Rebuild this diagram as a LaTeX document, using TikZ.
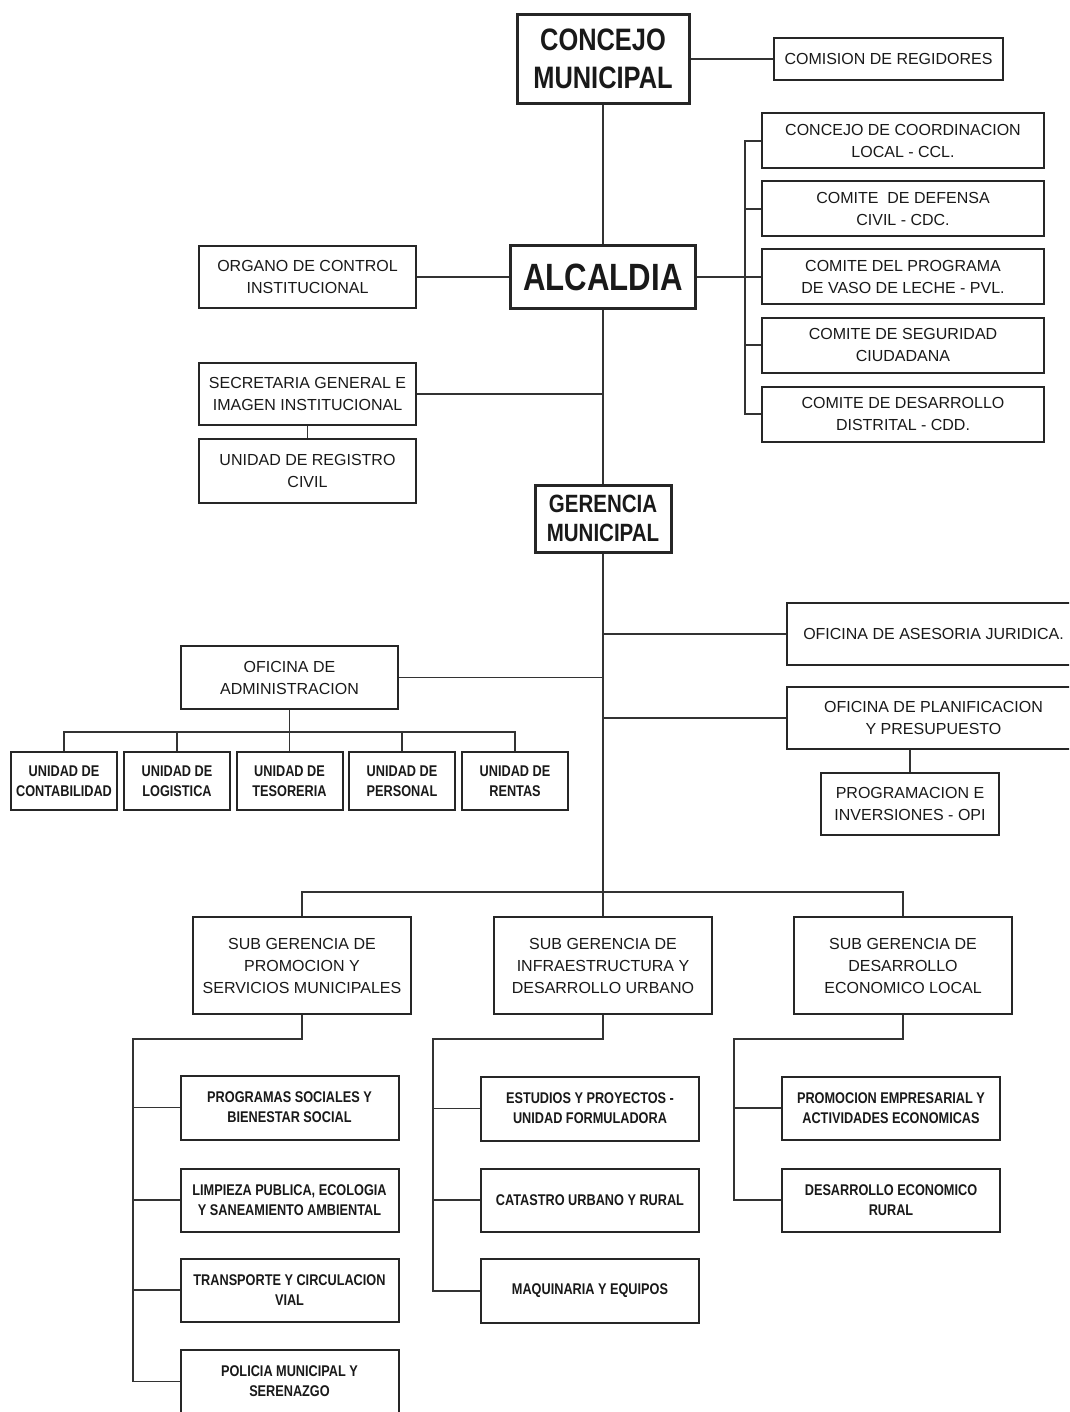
\documentclass[tikz,border=0pt]{standalone}
\usepackage{fontspec}
\setmainfont{Liberation Sans}
\newfontfamily\narrowfont[FakeStretch=0.82]{Liberation Sans}
\usetikzlibrary{positioning}
\tikzset{
  org/.style={draw=black!85, line width=2pt, align=center, inner sep=0pt,
    text=black!90, font=\fontsize{16}{22}\selectfont},
  head/.style={org, line width=3pt},
  unit/.style={org, font=\narrowfont\bfseries\fontsize{15.5}{20}\selectfont},
  link/.style={draw=black!80, line width=1.6pt},
}

\begin{document}
\begin{tikzpicture}[x=1pt, y=-1pt]

    \fill[white] (0,0) rectangle (1069,1412);
    \useasboundingbox (0,0) rectangle (1069,1412);
    \clip (0,0) rectangle (1069,1412);

    % top
    \node[head, minimum width=172pt, minimum height=89pt, font=\narrowfont\bfseries\fontsize{31}{38}\selectfont] (CM) at (603,59) {CONCEJO\\MUNICIPAL};
    \node[org, minimum width=229pt, minimum height=42pt] (CR) at (888.5,59) {COMISION DE REGIDORES};
    \node[head, minimum width=185pt, minimum height=63pt, font=\narrowfont\bfseries\fontsize{38}{40}\selectfont] (AL) at (603,277) {ALCALDIA};
    \node[org, minimum width=217pt, minimum height=62pt] (OCI) at (307.5,277) {ORGANO DE CONTROL\\INSTITUCIONAL};

    \node[org, minimum width=282pt, minimum height=55pt] (CCL) at (903,141) {CONCEJO DE COORDINACION\\LOCAL - CCL.};
    \node[org, minimum width=282pt, minimum height=55pt] (CDC) at (903,209) {COMITE\ \ DE DEFENSA\\CIVIL - CDC.};
    \node[org, minimum width=282pt, minimum height=55pt] (PVL) at (903,277) {COMITE DEL PROGRAMA\\DE VASO DE LECHE - PVL.};
    \node[org, minimum width=282pt, minimum height=55pt] (CSC) at (903,345) {COMITE DE SEGURIDAD\\CIUDADANA};
    \node[org, minimum width=282pt, minimum height=55pt] (CDD) at (903,414) {COMITE DE DESARROLLO\\DISTRITAL - CDD.};
    \coordinate (RB) at (745,141);

    \node[org, minimum width=217pt, minimum height=62pt] (SG) at (307.5,394) {SECRETARIA GENERAL E\\IMAGEN INSTITUCIONAL};
    \node[org, minimum width=217pt, minimum height=64pt] (URC) at (307.5,471) {UNIDAD DE REGISTRO\\CIVIL};

    \draw[link] (CM) -- (CR);
    \draw[link] (CM) -- (AL);
    \draw[link] (OCI) -- (AL);
    \draw[link] (AL) -- (PVL);
    \draw[link] (CCL.west) -- (CCL.west -| RB) |- (CDD.west);
    \draw[link] (CDC.west) -- (CDC.west -| RB);
    \draw[link] (CSC.west) -- (CSC.west -| RB);
    \draw[link] (SG.east) -- (SG.east -| AL.south);
    \draw[link] (SG) -- (URC);

    % gerencia
    \node[head, minimum width=136pt, minimum height=67pt, font=\narrowfont\bfseries\fontsize{25}{29}\selectfont] (GM) at (603,518.5) {GERENCIA\\MUNICIPAL};
    \draw[link] (AL) -- (GM);

    \node[org, minimum width=293pt, minimum height=62pt] (OAJ) at (933.5,634) {OFICINA DE ASESORIA JURIDICA.};
    \node[org, minimum width=293pt, minimum height=62pt] (OPP) at (933.5,718) {OFICINA DE PLANIFICACION\\Y PRESUPUESTO};
    \node[org, minimum width=178pt, minimum height=62pt] (OPI) at (910,804) {PROGRAMACION E\\INVERSIONES - OPI};
    \node[org, minimum width=217pt, minimum height=63pt] (OA) at (289.5,677.5) {OFICINA DE\\ADMINISTRACION};

    \draw[link] (OAJ.west) -- (OAJ.west -| GM.south);
    \draw[link] (OPP.west) -- (OPP.west -| GM.south);
    \draw[link] (OA.east) -- (OA.east -| GM.south);
    \draw[link] (OPP.south -| OPI.north) -- (OPI.north);

    % unidades
    \node[unit, minimum width=106pt, minimum height=58pt] (UC) at (64,781) {UNIDAD DE\\CONTABILIDAD};
    \node[unit, minimum width=106pt, minimum height=58pt] (UL) at (177,781) {UNIDAD DE\\LOGISTICA};
    \node[unit, minimum width=106pt, minimum height=58pt] (UT) at (289.5,781) {UNIDAD DE\\TESORERIA};
    \node[unit, minimum width=106pt, minimum height=58pt] (UP) at (402,781) {UNIDAD DE\\PERSONAL};
    \node[unit, minimum width=106pt, minimum height=58pt] (UR) at (515,781) {UNIDAD DE\\RENTAS};
    \coordinate (AB) at (64,732);

    \draw[link] (OA) -- (UT);
    \draw[link] (UC.north) -- (AB) -| (UR.north);
    \draw[link] (UL.north) -- (UL.north |- AB);
    \draw[link] (UP.north) -- (UP.north |- AB);

    % sub gerencias
    \node[org, minimum width=218pt, minimum height=97pt] (SGPS) at (302,965.5) {SUB GERENCIA DE\\PROMOCION Y\\SERVICIOS MUNICIPALES};
    \node[org, minimum width=218pt, minimum height=97pt] (SGIU) at (603,965.5) {SUB GERENCIA DE\\INFRAESTRUCTURA Y\\DESARROLLO URBANO};
    \node[org, minimum width=218pt, minimum height=97pt] (SGDE) at (903,965.5) {SUB GERENCIA DE\\DESARROLLO\\ECONOMICO LOCAL};
    \coordinate (SB) at (302,892);

    \draw[link] (GM) -- (SGIU);
    \draw[link] (SGPS.north) -- (SB) -| (SGDE.north);

    \node[unit, minimum width=218pt, minimum height=64pt] (PS) at (289.5,1107.5) {PROGRAMAS SOCIALES Y\\BIENESTAR SOCIAL};
    \node[unit, minimum width=218pt, minimum height=63pt] (LP) at (289.5,1200) {LIMPIEZA PUBLICA, ECOLOGIA\\Y SANEAMIENTO AMBIENTAL};
    \node[unit, minimum width=218pt, minimum height=63pt] (TC) at (289.5,1290) {TRANSPORTE Y CIRCULACION\\VIAL};
    \node[unit, minimum width=218pt, minimum height=63pt] (PM) at (289.5,1381.5) {POLICIA MUNICIPAL Y\\SERENAZGO};

    \node[unit, minimum width=218pt, minimum height=64pt] (EP) at (590,1108.5) {ESTUDIOS Y PROYECTOS -\\UNIDAD FORMULADORA};
    \node[unit, minimum width=218pt, minimum height=63pt] (CU) at (590,1200) {CATASTRO URBANO Y RURAL};
    \node[unit, minimum width=218pt, minimum height=64pt] (MQ) at (590,1291) {MAQUINARIA Y EQUIPOS};

    \node[unit, minimum width=218pt, minimum height=63pt] (PE) at (891,1108) {PROMOCION EMPRESARIAL Y\\ACTIVIDADES ECONOMICAS};
    \node[unit, minimum width=218pt, minimum height=63pt] (DR) at (891,1200) {DESARROLLO ECONOMICO\\RURAL};

    \coordinate (B1) at (133,1039);
    \coordinate (B2) at (433,1039);
    \coordinate (B3) at (734,1039);

    \draw[link] (SGPS.south) |- (B1) |- (PM.west);
    \draw[link] (PS.west) -- (PS.west -| B1);
    \draw[link] (LP.west) -- (LP.west -| B1);
    \draw[link] (TC.west) -- (TC.west -| B1);

    \draw[link] (SGIU.south) |- (B2) |- (MQ.west);
    \draw[link] (EP.west) -- (EP.west -| B2);
    \draw[link] (CU.west) -- (CU.west -| B2);

    \draw[link] (SGDE.south) |- (B3) |- (DR.west);
    \draw[link] (PE.west) -- (PE.west -| B3);

\end{tikzpicture}
\end{document}
